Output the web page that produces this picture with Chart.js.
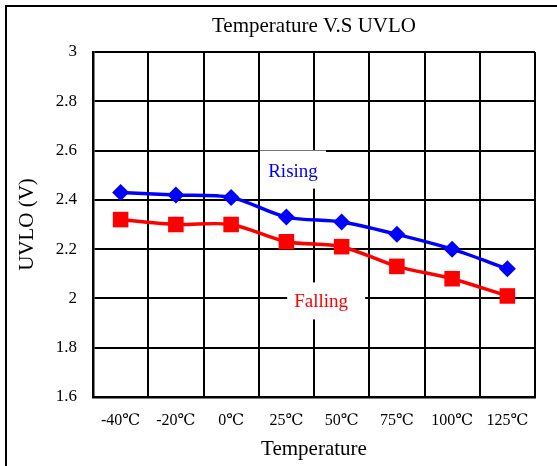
<!DOCTYPE html>
<html>
<head>
<meta charset="utf-8">
<script src="https://cdn.jsdelivr.net/npm/chart.js@4.4.1/dist/chart.umd.min.js"></script>
<style>
  html, body { margin: 0; padding: 0; background: #fff; overflow: hidden; }
  #wrap { position: relative; width: 557px; height: 466px; }
  #frame {
    position: absolute; left: 5px; top: 5px; width: 700px; height: 700px;
    border-left: 2px solid #000; border-top: 2px solid #000; pointer-events: none;
  }
</style>
</head>
<body>
<div id="wrap">
  <canvas id="uvlo-chart" width="557" height="466"></canvas>
  <div id="frame"></div>
</div>
<script>
const temperatures = ["-40℃", "-20℃", "0℃", "25℃", "50℃", "75℃", "100℃", "125℃"];
const risingValues = [2.43, 2.42, 2.41, 2.33, 2.31, 2.26, 2.20, 2.12];
const fallingValues = [2.32, 2.30, 2.30, 2.23, 2.21, 2.13, 2.08, 2.01];
const yTicks = [1.6, 1.8, 2, 2.2, 2.4, 2.6, 2.8, 3];

const serif = "'Liberation Serif', 'DejaVu Serif', serif";

// series labels drawn inside the plot, with a white box over the grid
const seriesLabels = [
  { text: "Rising", color: "#0000ff", x: 3.12, y: 2.523, w: 66, h: 38, dx: 0, dy: 2 },
  { text: "Falling", color: "#ff0000", x: 3.72, y: 1.99, w: 78, h: 37, dx: -5, dy: 1.5 },
];

const labelPlugin = {
  id: "seriesLabels",
  afterDatasetsDraw(chart) {
    const { ctx, scales } = chart;
    ctx.save();
    seriesLabels.forEach((label) => {
      const cx = scales.x.getPixelForValue(label.x);
      const cy = scales.y.getPixelForValue(label.y);
      ctx.fillStyle = "#ffffff";
      ctx.fillRect(cx - label.w / 2, cy - label.h / 2, label.w, label.h);
      ctx.fillStyle = label.color;
      ctx.font = `19px ${serif}`;
      ctx.textAlign = "center";
      ctx.textBaseline = "middle";
      ctx.fillText(label.text, cx + label.dx, cy + label.dy);
    });
    ctx.restore();
  },
};

function renderChart() {
  const canvas = document.getElementById("uvlo-chart");

  new Chart(canvas, {
    type: "line",
    data: {
      labels: temperatures,
      datasets: [
        {
          label: "Rising",
          data: risingValues,
          borderColor: "#0000ff",
          backgroundColor: "#0000ff",
          borderWidth: 3.5,
          pointStyle: "rectRot",
          pointRadius: 8.5,
          pointBorderWidth: 0,
          tension: 0.3,
        },
        {
          label: "Falling",
          data: fallingValues,
          borderColor: "#ff0000",
          backgroundColor: "#ff0000",
          borderWidth: 3.5,
          pointStyle: "rect",
          pointRadius: 11,
          pointBorderWidth: 0,
          tension: 0.3,
        },
      ],
    },
    options: {
      responsive: false,
      animation: false,
      layout: { padding: { left: 8, right: 22, top: 0, bottom: 0 } },
      plugins: {
        legend: { display: false },
        tooltip: { enabled: false },
        title: {
          display: true,
          text: "Temperature V.S UVLO",
          color: "#000",
          fullSize: false,
          font: { family: serif, size: 21, weight: "normal" },
          padding: { top: 14, bottom: 12.8 },
        },
      },
      scales: {
        x: {
          offset: true,
          grid: { offset: true, color: "#000", lineWidth: 2, drawTicks: false },
          border: { color: "#000", width: 2.5 },
          ticks: {
            color: "#000",
            padding: 14,
            maxRotation: 0,
            autoSkip: false,
            font: { family: serif, size: 16 },
          },
          title: {
            display: true,
            text: "Temperature",
            color: "#000",
            font: { family: serif, size: 21 },
            padding: { top: 0, bottom: 4 },
          },
          afterFit(scale) {
            scale.height = 69;
          },
        },
        y: {
          min: 1.6,
          max: 3,
          grid: { color: "#000", lineWidth: 2, drawTicks: false },
          border: { color: "#000", width: 2.5 },
          afterBuildTicks(scale) {
            scale.ticks = yTicks.map((value) => ({ value }));
          },
          ticks: {
            color: "#000",
            padding: 16,
            font: { family: serif, size: 17 },
            callback: (value) => String(Number(value.toFixed(1))),
          },
          title: {
            display: true,
            text: "UVLO (V)",
            color: "#000",
            font: { family: serif, size: 21 },
            padding: { top: 7, bottom: 0 },
          },
          afterFit(scale) {
            scale.width = 85;
          },
        },
      },
    },
    plugins: [labelPlugin],
  });
}

renderChart();
</script>
</body>
</html>
